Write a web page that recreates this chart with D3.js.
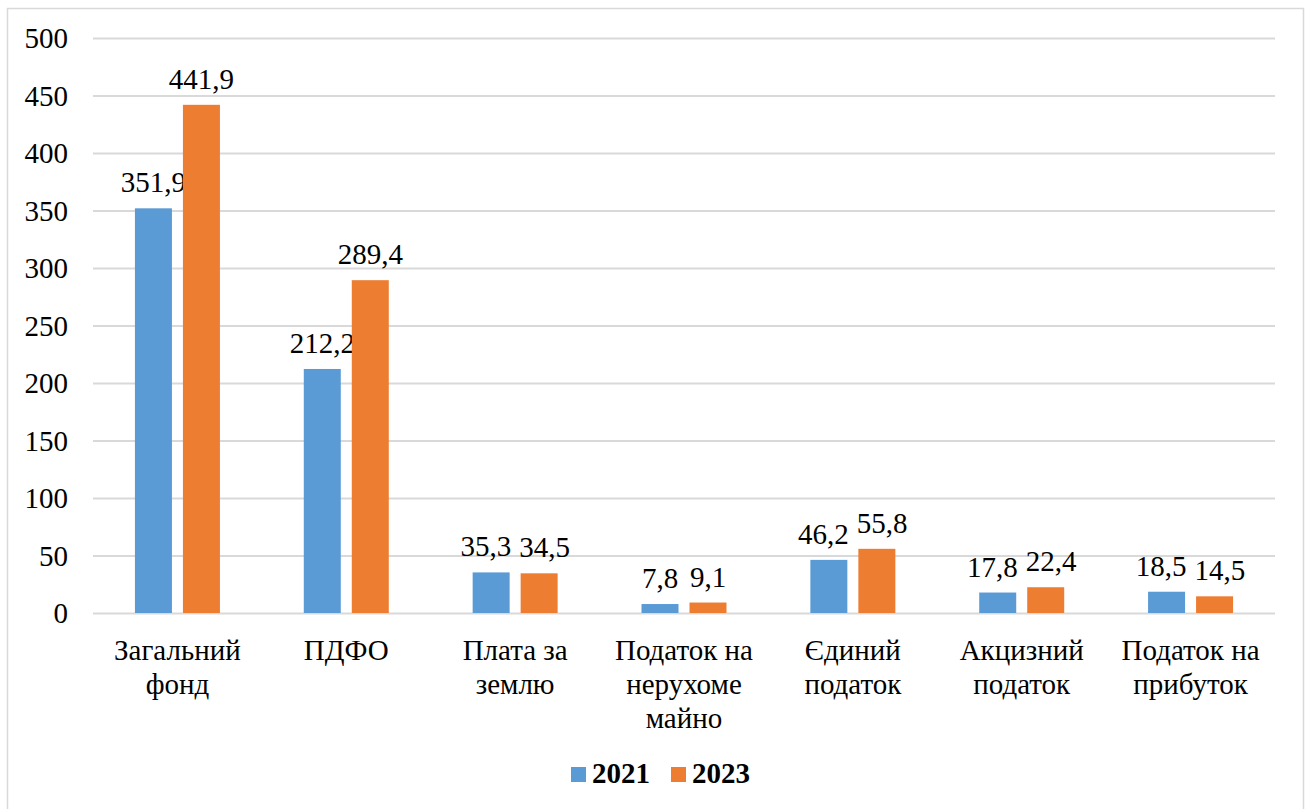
<!DOCTYPE html>
<html><head><meta charset="utf-8">
<script src="https://cdn.jsdelivr.net/npm/d3@7"></script>
</head><body>
<script>
const categories = [["Загальний","фонд"],["ПДФО"],["Плата за","землю"],["Податок на","нерухоме","майно"],["Єдиний","податок"],["Акцизний","податок"],["Податок на","прибуток"]];
const seriesNames = ["2021","2023"];
const values2021 = [351.9,212.2,35.3,7.8,46.2,17.8,18.5];
const values2023 = [441.9,289.4,34.5,9.1,55.8,22.4,14.5];
const yTicks = [0,50,100,150,200,250,300,350,400,450,500];
const colors = ["#5B9BD5","#ED7D31"];

(function(){
d3.select("body").style("margin","0px");
const W=1309,H=809,FS=29;
const FF='"Liberation Serif"';
const svg=d3.select("body").append("svg").attr("width",W).attr("height",H).style("display","block");
svg.append("rect").attr("x",7.5).attr("y",8.5).attr("width",1296).attr("height",810).attr("fill","#fff").attr("stroke","#D9D9D9").attr("stroke-width",1.5);

const mLeft=93,mRight=1275,mTop=38,mBottom=613;
const x=d3.scaleBand().domain(d3.range(categories.length)).range([mLeft,mRight]);
const y=d3.scaleLinear().domain([0,500]).range([mBottom,mTop]);

const yAxis=d3.axisLeft(y).tickValues(yTicks).tickSize(-(mRight-mLeft)).tickFormat(d3.format("d"));
const gy=svg.append("g").attr("transform",`translate(${mLeft},0)`).call(yAxis);
gy.select(".domain").remove();
gy.selectAll(".tick line").attr("stroke","#D9D9D9").attr("stroke-width",2);
gy.selectAll(".tick text").attr("x",-25).attr("dy","0.34em").attr("fill","#000")
  .style("font-family",FF).attr("font-size",FS);

const bw=37,gap=11;
const series=[values2021,values2023];
const labels=[];
series.forEach((vals,si)=>{
  const off = si===0 ? -gap/2-bw : gap/2;
  const g=svg.append("g");
  g.selectAll("rect").data(vals).enter().append("rect")
    .attr("x",(d,i)=>x(i)+x.bandwidth()/2+off)
    .attr("y",d=>y(d)).attr("width",bw).attr("height",d=>y(0)-y(d))
    .attr("fill",colors[si]);
  labels.push(g.selectAll("text").data(vals).enter().append("text")
    .attr("x",(d,i)=>x(i)+x.bandwidth()/2+off+bw/2)
    .attr("y",d=>y(d)-16)
    .attr("text-anchor","middle").attr("fill","#000")
    .style("font-family",FF).attr("font-size",FS)
    .text(d=>d3.format(".1f")(d).replace(".",",")));
});
// push apart overlapping label pairs
const a=labels[0].nodes(), b=labels[1].nodes();
a.forEach((na,i)=>{
  const nb=b[i];
  const ba=na.getBBox(), bb=nb.getBBox();
  const vOverlap = !(ba.y+ba.height<bb.y || bb.y+bb.height<ba.y);
  const need = (ba.x+ba.width+8) - bb.x;
  if(vOverlap && need>0){
    na.setAttribute("x", +na.getAttribute("x")-need/2);
    nb.setAttribute("x", +nb.getAttribute("x")+need/2);
  }
});

const xg=svg.append("g");
categories.forEach((lines,i)=>{
  const t=xg.append("text").attr("text-anchor","middle").attr("fill","#000").style("font-family",FF).attr("font-size",FS);
  lines.forEach((ln,j)=>{
    t.append("tspan").attr("x",x(i)+x.bandwidth()/2).attr("y",660+j*34).text(ln);
  });
});

const lg=svg.append("g");
const lx=[571,671];
seriesNames.forEach((n,i)=>{
  lg.append("rect").attr("x",lx[i]).attr("y",767).attr("width",15).attr("height",15).attr("fill",colors[i]);
  lg.append("text").attr("x",lx[i]+21).attr("y",783).attr("fill","#000").style("font-family",FF).attr("font-size",FS).attr("font-weight","bold").text(n);
});
})();
</script>
</body></html>
